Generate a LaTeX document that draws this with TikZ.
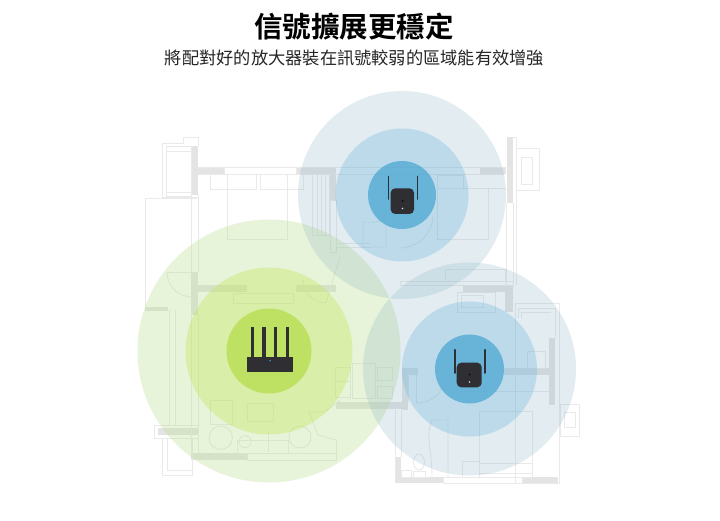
\documentclass[tikz,border=0pt]{standalone}
\usepackage{fontspec}
\newfontfamily\cjkbold[BoldFont={Noto Sans CJK TC Bold}]{Noto Sans CJK TC}
\newfontfamily\cjk{Noto Sans CJK TC}
\definecolor{planline}{HTML}{EAEAEA}
\definecolor{planwall}{HTML}{E4E4E4}
\definecolor{bluea}{HTML}{8DB6C8}
\definecolor{blueb}{HTML}{5EADDB}
\definecolor{bluec}{HTML}{45A4D1}
\definecolor{greena}{HTML}{BADE8C}
\definecolor{greenb}{HTML}{C0E661}
\definecolor{greenc}{HTML}{BBDF57}
\definecolor{device}{HTML}{2E2E33}
\tikzset{
  plan/.style={draw=planline,line width=0.9bp,fill=none},
  wall/.style={fill=planwall,draw=none},
  ringblueA/.style={fill=bluea,fill opacity=.25,draw=none},
  ringblueB/.style={fill=blueb,fill opacity=.28,draw=none},
  ringblueC/.style={fill=bluec,fill opacity=.7,draw=none},
  ringgreenA/.style={fill=greena,fill opacity=.33,draw=none},
  ringgreenB/.style={fill=greenb,fill opacity=.4,draw=none},
  ringgreenC/.style={fill=greenc,fill opacity=.85,draw=none},
  antenna/.style={draw=device,line width=1.6bp,line cap=round},
  body/.style={fill=device,draw=none,rounded corners=4.5bp},
}
\begin{document}
\begin{tikzpicture}[x=1bp,y=-1bp]
\useasboundingbox (0,0) rectangle (720,521);
\fill[white] (0,0) rectangle (720,521);

% --- floor plan: walls
\fill[wall] (191,146) rectangle (198,195);
\fill[wall] (198,167) rectangle (224,174);
\fill[wall] (296,167) rectangle (336,174);
\fill[wall] (329,174) rectangle (336,200);
\fill[wall] (480,167) rectangle (506,174);
\fill[wall] (507,137) rectangle (513,203);
\fill[wall] (191,272) rectangle (198,315);
\fill[wall] (191,285) rectangle (247,292);
\fill[wall] (296,285) rectangle (336,292);
\fill[wall] (145,307) rectangle (168,311);
\fill[wall] (158,428) rectangle (198,435);
\fill[wall] (191,453) rectangle (247,460);
\fill[wall] (336,402) rectangle (408,409);
\fill[wall] (402,368) rectangle (408,410);
\fill[wall] (402,368) rectangle (418,375);
\fill[wall] (395,477) rectangle (443,483);
\fill[wall] (522,477) rectangle (558,483);
\fill[wall] (395,457) rectangle (401,483);
\fill[wall] (549,338) rectangle (555,405);
\fill[wall] (504,368) rectangle (549,375);
\fill[wall] (463,285) rectangle (513,292);
\fill[wall] (505,285) rectangle (513,312);

% --- floor plan: outlines, upper left
\draw[plan] (198,137) -- (183,137) -- (183,143) -- (162,143) -- (162,197) -- (198,197);
\draw[plan] (198,137) -- (198,146);
\draw[plan] (166,146) rectangle (191,151);
\draw[plan] (166,151) rectangle (191,192);
\draw[plan] (166,192) rectangle (191,196);
\draw[plan] (224,167) rectangle (296,174);
\draw[plan] (198,167) -- (505,167);
\draw[plan] (198,174) -- (505,174);
\draw[plan] (227.7,174) rectangle (287,239);
\draw[plan] (210,174) rectangle (256.7,189);
\draw[plan] (260,174) rectangle (303,189);
\draw[plan] (312,174) rectangle (329,235);
\draw[plan] (317,174) -- (317,235) (321,174) -- (321,235) (325,174) -- (325,235);
\draw[plan] (330,200) rectangle (336,252);
\draw[plan] (336,243) -- (370,243) (336,247) -- (370,247);
\draw[plan] (303,280) arc[start angle=180,end angle=90,radius=23] -- (340,257);
\draw[plan] (145,198) -- (197,198);
\draw[plan] (145,198) -- (145,310);
\draw[plan] (191,195) -- (191,272) (198,195) -- (198,272);
\draw[plan] (167,272) arc[start angle=180,end angle=90,radius=25];
\draw[plan] (167,272) -- (191,272);

% --- left lower
\draw[plan] (169,310) -- (169,425) (175,310) -- (175,425);
\draw[plan] (191,315) -- (191,453) (198,315) -- (198,453);
\draw[plan] (154,425) rectangle (198,438);
\draw[plan] (162,438) rectangle (192,475);
\draw[plan] (167,438) -- (167,470) -- (192,470);
\draw[plan] (233,293) rectangle (293,303);
\draw[plan] (210,400) rectangle (232,424);
\draw[plan] (247,403) rectangle (273,421);
\draw[plan] (220.7,437.7) circle[radius=11.7];
\draw[plan] (300,437) circle[radius=11];
\draw[plan] (245,441.7) circle[radius=6];
\draw[plan] (237,440) rectangle (288,453);
\draw[plan] (268,432) -- (268,452);
\draw[plan] (247,453) rectangle (336,460);
\draw[plan] (336,440) -- (336,460);
\draw[plan] (307,412) -- (325,412) -- (340,400);
\draw[plan] (309,412) -- (318,435) -- (336,440);
\draw[plan] (335,367) rectangle (350,397);
\draw[plan] (335,381) -- (350,381);
\draw[plan] (352,363) rectangle (375,398);
\draw[plan] (377,367) rectangle (392,380);
\draw[plan] (377,386) rectangle (392,398);

% --- right side
\draw[plan] (513,137) -- (516,137) -- (516,285);
\draw[plan] (506,203) -- (506,285) (513,203) -- (513,285);
\draw[plan] (516,148) rectangle (539,190);
\draw[plan] (521,157) rectangle (532,184);
\draw[plan] (437,188) rectangle (488,239);
\draw[plan] (437,175) rectangle (463,188);
\draw[plan] (488,188) -- (506,188);
\draw[plan] (363,222) -- (376,222) arc[start angle=90,end angle=0,radius=10] -- (386,247) -- (363,247) -- cycle;
\draw[plan] (400,248) arc[start angle=90,end angle=0,radius=33];
\draw[plan] (400,281) rectangle (513,285);
\draw[plan] (445,269) rectangle (505,281);
\draw[plan] (457,292) rectangle (495,312);
\draw[plan] (461,295) rectangle (483,307);
\draw[plan] (515,303) rectangle (559,483);
\draw[plan] (555,308) -- (518,308) -- (518,318) (551,312) -- (521,312) -- (521,318);
\draw[plan] (555,308) -- (555,338);
\draw[plan] (479,411) rectangle (532,473);
\draw[plan] (462,461) rectangle (479,477);
\draw[plan] (479,463) rectangle (532,477);
\draw[plan] (527,351) rectangle (545,368);
\draw[plan] (470,391) -- (549,391);
\draw[plan] (560,404) rectangle (579,436);
\draw[plan] (564,412) rectangle (575,427);
\draw[plan] (443,477) rectangle (522,483);
\draw[plan] (395,410) -- (395,477) (401,410) -- (401,457);
\draw[plan] (408,375) -- (408,402) (416,375) -- (416,402);
\draw[plan] (416,403) .. controls (430,403) and (440,395) .. (443,385);
\draw[plan] (432,420) -- (448,420) -- (448,477) (432,420) .. controls (425,435) and (432,450) .. (432,477);
\draw[plan] (419,462) ellipse[x radius=5.5,y radius=8];
\draw[plan] (413,471) rectangle (425,477);
\draw[plan] (401,470) rectangle (411,477);

% --- signal rings, green
\fill[ringgreenA] (269,351) circle[radius=131.5];
\fill[ringgreenB] (269,351) circle[radius=83.5];
\fill[ringgreenC] (269,351) circle[radius=42.5];
% --- signal rings, top
\fill[ringblueA] (402,195) circle[radius=104];
\fill[ringblueB] (402,195) circle[radius=66.5];
\fill[ringblueC] (402,195) circle[radius=34];
% --- signal rings, lower right
\fill[ringblueA] (469.5,369) circle[radius=106.5];
\fill[ringblueB] (469.5,369) circle[radius=67.5];
\fill[ringblueC] (469.5,369) circle[radius=34.5];

% --- router
\fill[device] (250.7,326.7) rectangle (254,357);
\fill[device] (262.3,326.7) rectangle (265.7,357);
\fill[device] (274,326.7) rectangle (277.3,357);
\fill[device] (286,326.7) rectangle (289.3,357);
\fill[device] (247.3,356.7) rectangle (293.3,371.7);
\fill[bluec] (270,360.7) circle[radius=0.8];

% --- extender, top
\draw[antenna] (388.3,176.5) -- (388.3,199);
\draw[antenna] (417.3,176.5) -- (417.3,199);
\fill[body] (390.7,188.3) rectangle (414,214);
\fill[white!85!device] (402.5,208.5) circle[radius=0.9];
\fill[black!60!device] (402.5,201) circle[radius=1.2];

% --- extender, lower right
\draw[antenna] (454.7,349.8) -- (454.7,373);
\draw[antenna] (484.7,349.8) -- (484.7,373);
\fill[body] (456.7,362.7) rectangle (481.7,387.3);
\fill[white!85!device] (469.5,382) circle[radius=0.9];
\fill[black!60!device] (469.5,374.5) circle[radius=1.2];

% --- text
\node[font={\cjkbold\bfseries\fontsize{28.6}{32}\selectfont},text=black,inner sep=0pt,anchor=center] (title) at (354,27) {信號擴展更穩定};
\node[font={\cjk\fontsize{17.3}{20}\selectfont},text=black!85,inner sep=0pt,anchor=center] (subtitle) at (354.5,57.5) {將配對好的放大器裝在訊號較弱的區域能有效增強};
\end{tikzpicture}
\end{document}
